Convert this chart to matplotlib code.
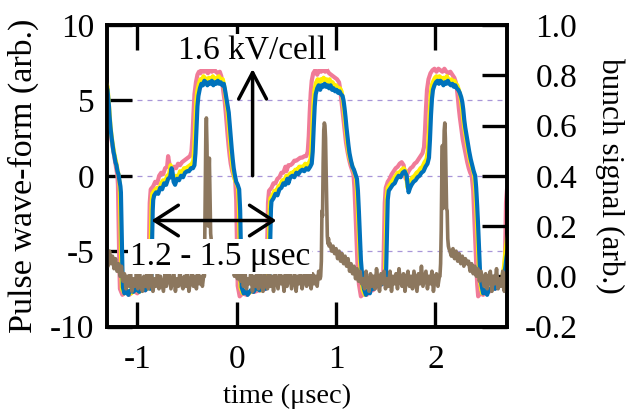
import numpy as np
import matplotlib
matplotlib.use("Agg")
import matplotlib.pyplot as plt

plt.rcParams['font.family'] = ['Liberation Serif', 'DejaVu Serif']
plt.rcParams['axes.unicode_minus'] = False

# ---------------- data ----------------
x_ticks = [-1, 0, 1, 2]
x_ticklabels = ["-1", "0", "1", "2"]
y_ticks = [-10, -5, 0, 5, 10]
y_ticklabels = ["-10", "-5", "0", "5", "10"]
y2_ticks = [-0.2, 0.0, 0.2, 0.4, 0.6, 0.8, 1.0]
y2_ticklabels = ["-0.2", "0.0", "0.2", "0.4", "0.6", "0.8", "1.0"]
grid_levels = [-5, 0, 5]

blue_t = [-1.31, -1.30, -1.29, -1.285, -1.28, -1.27, -1.26, -1.25, -1.24, -1.23, -1.22, -1.21, -1.20, -1.19,
          -1.18, -1.17, -1.165, -1.16, -1.155, -1.15, -1.145, -1.13, -1.11, -1.09, -1.07, -1.04, -1.01, -0.98,
          -0.95, -0.92, -0.89, -0.87, -0.86, -0.855, -0.85, -0.845, -0.84, -0.83, -0.81, -0.79, -0.77, -0.75,
          -0.73, -0.71, -0.69, -0.67, -0.655, -0.645, -0.635, -0.62, -0.60, -0.58, -0.56, -0.54, -0.52, -0.50,
          -0.48, -0.46, -0.44, -0.425, -0.415, -0.405, -0.395, -0.385, -0.37, -0.355, -0.34, -0.325, -0.31,
          -0.295, -0.28, -0.265, -0.25, -0.235, -0.22, -0.205, -0.19, -0.175, -0.16, -0.145, -0.13, -0.12,
          -0.11, -0.095, -0.08, -0.07, -0.06, -0.05, -0.04, -0.03, -0.02, -0.005, 0.01, 0.025, 0.035, 0.04,
          0.045, 0.05, 0.07, 0.09, 0.11, 0.14, 0.17, 0.20, 0.23, 0.26, 0.29, 0.32, 0.33, 0.335, 0.34, 0.345,
          0.35, 0.37, 0.39, 0.41, 0.43, 0.45, 0.47, 0.49, 0.51, 0.52, 0.54, 0.56, 0.58, 0.60, 0.62, 0.64, 0.66,
          0.68, 0.70, 0.72, 0.74, 0.755, 0.765, 0.775, 0.785, 0.795, 0.81, 0.825, 0.84, 0.855, 0.87, 0.885,
          0.90, 0.915, 0.93, 0.945, 0.96, 0.975, 0.99, 1.005, 1.02, 1.035, 1.05, 1.065, 1.075, 1.085, 1.095,
          1.105, 1.115, 1.125, 1.135, 1.15, 1.165, 1.18, 1.195, 1.21, 1.22, 1.23, 1.24, 1.25, 1.265, 1.28,
          1.30, 1.32, 1.34, 1.36, 1.38, 1.40, 1.42, 1.44, 1.46, 1.48, 1.50, 1.505, 1.51, 1.515, 1.52, 1.53,
          1.55, 1.57, 1.59, 1.61, 1.63, 1.65, 1.67, 1.69, 1.71, 1.72, 1.73, 1.745, 1.76, 1.78, 1.80, 1.82,
          1.84, 1.86, 1.88, 1.90, 1.92, 1.935, 1.945, 1.955, 1.965, 1.975, 1.99, 2.005, 2.02, 2.035, 2.05,
          2.065, 2.08, 2.095, 2.11, 2.125, 2.14, 2.155, 2.17, 2.185, 2.20, 2.215, 2.23, 2.245, 2.26, 2.27,
          2.28, 2.29, 2.30, 2.31, 2.32, 2.33, 2.34, 2.355, 2.37, 2.385, 2.40, 2.41, 2.42, 2.43, 2.44, 2.45,
          2.465, 2.48, 2.50, 2.52, 2.54, 2.56, 2.58, 2.60, 2.62, 2.64, 2.66, 2.68, 2.695, 2.705, 2.715, 2.725,
          2.735]
blue_v = [5.9, 5.7, 5.0, 4.6, 4.0, 3.2, 2.6, 2.1, 1.6, 1.3, 0.9, 0.7, 0.3, 0.1,
          -0.3, -0.7, -1.1, -2.8, -4.5, -6.2, -7.4, -7.8, -7.6, -7.9, -7.6, -7.7, -7.5, -7.7,
          -7.4, -7.6, -7.3, -7.5, -7.2, -5.5, -3.6, -2.3, -1.6, -1.3, -1.1, -1.2, -0.8, -0.9,
          -0.5, -0.6, -0.2, -0.1, 0.5, 0.2, -0.4, -0.6, -0.2, -0.3, 0.0, -0.1, 0.2, 0.3,
          0.3, 0.5, 0.5, 0.7, 1.5, 3.0, 4.6, 5.3, 5.8, 6.1, 6.0, 6.3, 6.2,
          6.0, 6.2, 6.1, 6.3, 6.0, 6.2, 6.1, 6.3, 6.1, 6.2, 6.0, 6.1, 5.8,
          5.4, 4.8, 4.2, 3.4, 2.6, 1.8, 1.1, 0.5, 0.1, -0.4, -0.6, -0.9, -2.3, -4.0,
          -6.0, -7.4, -7.8, -7.6, -7.9, -7.6, -7.7, -7.4, -7.6, -7.3, -7.5, -7.2, -6.5, -5.0, -3.6, -2.2,
          -1.7, -1.5, -1.2, -1.3, -0.9, -0.8, -0.5, -0.6, -0.2, -0.5, -0.1, 0.0, -0.1, 0.2, 0.1, 0.3, 0.4,
          0.3, 0.5, 0.4, 0.6, 0.8, 1.6, 3.2, 4.6, 5.4, 5.8, 6.0, 5.7, 6.0, 5.9, 6.1,
          5.9, 6.0, 5.8, 6.0, 5.7, 5.8, 5.6, 5.7, 5.5, 5.6, 5.4, 5.3, 5.0, 4.5, 3.9,
          3.2, 2.6, 2.0, 1.5, 1.0, 0.6, 0.4, 0.1, -0.2, -1.0, -2.4, -4.0, -5.6, -6.8, -7.5,
          -7.9, -7.6, -7.8, -7.3, -7.5, -7.1, -7.3, -7.0, -7.2, -6.9, -7.0, -6.0, -4.5, -3.0, -1.6, -1.0,
          -0.8, -0.6, -0.5, -0.2, 0.0, -0.1, 0.2, 0.3, 0.0, -0.6, -1.1, -0.8, -0.6, -0.4, -0.3, -0.1,
          0.0, 0.2, 0.3, 0.6, 0.8, 1.2, 2.4, 4.0, 5.1, 5.7, 6.0, 6.2, 6.3, 6.1, 6.3,
          6.2, 6.0, 6.2, 6.1, 6.3, 6.1, 6.0, 6.1, 5.9, 6.0, 5.8, 5.7, 5.5, 5.2, 4.9,
          4.4, 3.7, 3.2, 2.8, 2.4, 2.0, 1.6, 1.1, 0.7, 0.3, 0.0, -0.8, -2.0, -3.4, -5.0, -6.6,
          -7.3, -7.8, -7.6, -7.9, -7.5, -7.6, -7.3, -7.5, -7.2, -7.3, -7.0, -6.9, -6.5, -6.0, -5.4, -5.0,
          -4.7]

yellow_t = [-1.31, -1.30, -1.29, -1.28, -1.27, -1.26, -1.25, -1.24, -1.23, -1.22, -1.21, -1.20, -1.19, -1.18,
            -1.175, -1.17, -1.165, -1.16, -1.155, -1.13, -1.10, -1.06, -1.02, -0.98, -0.94, -0.90, -0.875,
            -0.868, -0.862, -0.857, -0.85, -0.83, -0.80, -0.78, -0.76, -0.74, -0.72, -0.70, -0.68, -0.665,
            -0.655, -0.645, -0.63, -0.61, -0.59, -0.57, -0.55, -0.53, -0.51, -0.49, -0.47, -0.45, -0.437,
            -0.427, -0.417, -0.407, -0.397, -0.38, -0.365, -0.35, -0.335, -0.32, -0.30, -0.28, -0.26, -0.24,
            -0.22, -0.20, -0.18, -0.16, -0.14, -0.13, -0.12, -0.107, -0.092, -0.082, -0.072, -0.062, -0.052,
            -0.042, -0.032, -0.017, -0.002, 0.013, 0.023, 0.028, 0.033, 0.038, 0.06, 0.09, 0.12, 0.16, 0.20,
            0.24, 0.28, 0.31, 0.318, 0.323, 0.328, 0.333, 0.34, 0.36, 0.38, 0.40, 0.42, 0.44, 0.46, 0.48,
            0.50, 0.51, 0.53, 0.55, 0.57, 0.59, 0.61, 0.63, 0.65, 0.67, 0.69, 0.71, 0.73, 0.743, 0.753, 0.763,
            0.773, 0.783, 0.80, 0.815, 0.83, 0.845, 0.86, 0.875, 0.89, 0.905, 0.92, 0.935, 0.95, 0.965, 0.98,
            1.00, 1.02, 1.04, 1.055, 1.065, 1.075, 1.085, 1.095, 1.105, 1.115, 1.125, 1.14, 1.155, 1.17, 1.185,
            1.20, 1.21, 1.22, 1.23, 1.24, 1.255, 1.27, 1.29, 1.32, 1.35, 1.38, 1.41, 1.44, 1.47, 1.49, 1.495,
            1.50, 1.505, 1.51, 1.52, 1.54, 1.56, 1.58, 1.60, 1.62, 1.64, 1.66, 1.68, 1.70, 1.71, 1.72, 1.735,
            1.75, 1.77, 1.79, 1.81, 1.83, 1.85, 1.87, 1.89, 1.91, 1.923, 1.933, 1.943, 1.953, 1.963, 1.98,
            1.995, 2.01, 2.025, 2.04, 2.055, 2.07, 2.085, 2.10, 2.115, 2.13, 2.145, 2.16, 2.175, 2.19, 2.205,
            2.22, 2.235, 2.25, 2.26, 2.27, 2.28, 2.29, 2.30, 2.31, 2.32, 2.33, 2.345, 2.36, 2.375, 2.39, 2.40,
            2.41, 2.42, 2.43, 2.44, 2.455, 2.47, 2.49, 2.52, 2.55, 2.58, 2.61, 2.64, 2.66, 2.675, 2.69, 2.70,
            2.71, 2.72, 2.735]
yellow_v = [6.1, 5.9, 5.1, 4.2, 3.3, 2.7, 2.2, 1.8, 1.4, 1.1, 0.8, 0.4, 0.1, -0.4,
            -1.0, -2.8, -4.6, -6.3, -7.5, -7.8, -7.6, -7.8, -7.5, -7.7, -7.4, -7.5, -7.3,
            -5.4, -3.5, -2.0, -1.2, -1.0, -0.8, -0.9, -0.5, -0.3, -0.4, 0.0, 0.1, 0.7,
            0.4, -0.1, -0.3, 0.0, -0.1, 0.3, 0.2, 0.5, 0.5, 0.6, 0.7, 0.8, 1.0,
            1.9, 3.4, 4.9, 5.6, 6.1, 6.4, 6.3, 6.6, 6.5, 6.3, 6.5, 6.4, 6.6,
            6.4, 6.5, 6.6, 6.4, 6.4, 6.1, 5.7, 5.0, 4.3, 3.5, 2.7, 1.9, 1.2,
            0.6, 0.2, -0.3, -0.5, -0.8, -2.2, -4.0, -6.0, -7.4, -7.8, -7.6, -7.8, -7.6, -7.5,
            -7.6, -7.4, -7.3, -6.5, -5.0, -3.4, -2.0, -1.5, -1.3, -1.0, -1.0, -0.7, -0.6, -0.3, -0.3,
            0.0, -0.3, 0.1, 0.2, 0.2, 0.4, 0.4, 0.6, 0.6, 0.6, 0.8, 0.7, 0.9, 1.1, 1.9, 3.5,
            4.9, 5.7, 6.2, 6.4, 6.1, 6.4, 6.3, 6.5, 6.3, 6.4, 6.2, 6.4, 6.1, 6.2, 6.0,
            6.0, 5.8, 5.8, 5.6, 5.2, 4.6, 4.0, 3.3, 2.7, 2.1, 1.6, 1.1, 0.8, 0.5, 0.2,
            -0.1, -1.0, -2.4, -4.0, -5.6, -6.8, -7.6, -7.9, -7.6, -7.5, -7.4, -7.2, -7.1, -7.0, -6.9, -5.8,
            -4.3, -2.8, -1.4, -0.8, -0.6, -0.4, -0.2, 0.0, 0.2, 0.2, 0.4, 0.5, 0.3, -0.3, -0.8, -0.5,
            -0.3, -0.1, 0.0, 0.2, 0.3, 0.5, 0.6, 0.9, 1.1, 1.6, 2.8, 4.3, 5.4, 6.0, 6.3,
            6.5, 6.6, 6.4, 6.6, 6.5, 6.3, 6.5, 6.4, 6.6, 6.4, 6.3, 6.4, 6.2, 6.3, 6.1,
            6.0, 5.7, 5.3, 4.9, 4.3, 3.7, 3.2, 2.8, 2.4, 2.0, 1.6, 1.1, 0.7, 0.4, 0.0, -0.8,
            -2.0, -3.4, -5.0, -6.6, -7.3, -7.8, -7.6, -7.8, -7.5, -7.4, -7.4, -7.2, -7.0, -6.6, -6.0, -5.3,
            -4.7, -4.2, -3.7]

pink_t = [-1.31, -1.305, -1.30, -1.29, -1.28, -1.27, -1.26, -1.25, -1.24, -1.23, -1.22, -1.21, -1.20,
          -1.195, -1.19, -1.185, -1.18, -1.175, -1.15, -1.12, -1.08, -1.04, -1.00, -0.96, -0.92, -0.89,
          -0.885, -0.88, -0.875, -0.865, -0.84, -0.82, -0.80, -0.78, -0.76, -0.74, -0.72, -0.70, -0.69,
          -0.68, -0.665, -0.65, -0.63, -0.61, -0.59, -0.57, -0.55, -0.53, -0.51, -0.49, -0.47, -0.455,
          -0.445, -0.435, -0.425, -0.41, -0.395, -0.38, -0.365, -0.35, -0.33, -0.31, -0.29, -0.27, -0.25,
          -0.23, -0.21, -0.19, -0.17, -0.155, -0.145, -0.135, -0.12, -0.11, -0.10, -0.09, -0.08, -0.07,
          -0.06, -0.045, -0.03, -0.015, -0.005, 0.0, 0.005, 0.01, 0.03, 0.06, 0.10, 0.14, 0.18, 0.22, 0.26,
          0.29, 0.30, 0.305, 0.31, 0.315, 0.325, 0.35, 0.37, 0.39, 0.41, 0.43, 0.45, 0.47, 0.49, 0.50, 0.52,
          0.54, 0.56, 0.58, 0.60, 0.62, 0.64, 0.66, 0.68, 0.70, 0.715, 0.725, 0.735, 0.745, 0.755, 0.77,
          0.79, 0.81, 0.83, 0.85, 0.87, 0.89, 0.91, 0.93, 0.95, 0.97, 0.99, 1.01, 1.03, 1.04, 1.05, 1.06,
          1.07, 1.08, 1.09, 1.10, 1.115, 1.13, 1.145, 1.16, 1.175, 1.185, 1.195, 1.205, 1.215, 1.23, 1.25,
          1.28, 1.31, 1.34, 1.37, 1.40, 1.43, 1.46, 1.475, 1.48, 1.485, 1.49, 1.50, 1.52, 1.54, 1.56, 1.58,
          1.60, 1.62, 1.64, 1.66, 1.68, 1.69, 1.70, 1.715, 1.73, 1.75, 1.77, 1.79, 1.81, 1.83, 1.85, 1.87,
          1.885, 1.895, 1.905, 1.915, 1.93, 1.95, 1.97, 1.99, 2.01, 2.03, 2.05, 2.07, 2.09, 2.11, 2.13,
          2.15, 2.17, 2.19, 2.205, 2.215, 2.225, 2.235, 2.245, 2.255, 2.265, 2.275, 2.29, 2.305, 2.32,
          2.335, 2.35, 2.365, 2.38, 2.39, 2.40, 2.41, 2.42, 2.43, 2.45, 2.48, 2.51, 2.54, 2.57, 2.60, 2.63,
          2.66, 2.69, 2.70, 2.705, 2.71, 2.72, 2.735]
pink_v = [6.4, 6.0, 5.3, 4.4, 3.5, 2.9, 2.4, 2.0, 1.6, 1.2, 0.8, 0.4, 0.0,
          -0.6, -2.6, -4.5, -6.2, -7.5, -7.9, -7.7, -7.9, -7.6, -7.8, -7.5, -7.6, -7.4,
          -5.5, -3.3, -1.8, -0.9, -0.7, -0.4, -0.5, 0.0, 0.2, 0.1, 0.5, 0.6, 1.3,
          0.9, 0.4, 0.3, 0.6, 0.5, 0.8, 0.7, 0.9, 1.0, 1.1, 1.2, 1.3, 1.6,
          2.6, 4.1, 5.4, 6.2, 6.7, 6.9, 6.8, 7.1, 6.9, 7.0, 6.8, 7.0, 6.9,
          7.1, 6.9, 6.8, 6.9, 6.6, 6.2, 5.6, 4.9, 4.2, 3.4, 2.6, 1.9, 1.3,
          0.8, 0.3, 0.0, -0.3, -1.6, -3.6, -5.6, -7.3, -8.0, -7.8, -7.9, -7.7, -7.7, -7.6, -7.6,
          -7.5, -7.0, -5.2, -3.2, -1.8, -1.0, -0.8, -0.5, -0.5, -0.2, -0.1, 0.2, 0.2, 0.6, 0.3, 0.7,
          0.7, 0.8, 1.0, 1.0, 1.1, 1.2, 1.2, 1.3, 1.3, 1.6, 2.6, 4.2, 5.5, 6.3, 6.8,
          7.0, 6.7, 7.0, 6.9, 7.1, 6.9, 7.0, 6.8, 6.7, 6.6, 6.5, 6.4, 6.2, 5.8, 5.2, 4.6,
          4.0, 3.4, 2.8, 2.2, 1.6, 1.1, 0.7, 0.4, 0.1, -0.8, -2.4, -4.2, -5.8, -7.2, -8.0,
          -7.8, -7.9, -7.6, -7.6, -7.4, -7.3, -7.2, -6.5, -5.0, -3.4, -1.8, -0.8, -0.4, -0.2, 0.1, 0.3,
          0.5, 0.6, 0.8, 0.9, 0.7, 0.2, -0.2, 0.1, 0.3, 0.5, 0.6, 0.8, 0.9, 1.1, 1.3, 1.5,
          1.9, 3.0, 4.5, 5.7, 6.4, 6.8, 7.0, 7.1, 6.9, 7.1, 7.0, 6.9, 7.1, 6.9, 6.8,
          6.9, 6.7, 6.5, 6.2, 5.8, 5.2, 4.5, 3.9, 3.4, 2.9, 2.4, 1.9, 1.4, 0.9,
          0.5, 0.2, 0.0, -1.0, -2.6, -4.2, -5.8, -7.2, -8.0, -7.8, -7.9, -7.6, -7.7, -7.4, -7.5, -7.3,
          -7.2, -7.0, -5.5, -3.5, -1.8, -0.9, -0.5]

# bunch signal (right axis), uniformly sampled stretches plus the three spikes
bunch_base1_span = (-1.31, -0.33)
bunch_base1_v = [0.09, 0.04, 0.10, 0.05, 0.08, 0.03, 0.07, 0.02, 0.05, 0.00, 0.04, -0.02,
                 0.01, -0.05, 0.00, -0.04, 0.02, -0.06, -0.01, -0.04, 0.01, -0.05, 0.02, -0.03, -0.06,
                 0.00, -0.04, 0.01, -0.05, -0.02, 0.02, -0.06, -0.01, -0.04, 0.01, -0.05, 0.00, -0.03,
                 -0.06, 0.01, -0.04, -0.01, 0.02, -0.05, -0.02, 0.01, -0.06, -0.01, -0.04, 0.02, -0.03,
                 -0.05, 0.00, -0.04, 0.01, -0.06, -0.02, 0.01, -0.04, 0.00, -0.05, 0.02, -0.03, 0.00,
                 -0.04, 0.01]
bunch_peak1_t = [-0.325, -0.318, -0.311, -0.305, -0.299, -0.293, -0.287, -0.281, -0.275, -0.269, -0.262, -0.255]
bunch_peak1_v = [0.00, 0.28, 0.55, 0.63, 0.52, 0.30, 0.20, 0.38, 0.47, 0.33, 0.17, 0.14]
bunch_base2_span = (-0.25, 0.84)
bunch_base2_v = [0.12, 0.09, 0.13, 0.08, 0.11, 0.07, 0.10, 0.06, 0.09, 0.04, 0.08, 0.03, 0.06, 0.02,
                 0.05, 0.00, 0.04, -0.01, 0.03, -0.02,
                 0.01, -0.04, 0.02, -0.05, -0.01, -0.03, 0.02, -0.06, 0.00, -0.04, 0.01, -0.05, 0.02,
                 -0.02, -0.06, 0.01, -0.03, -0.05, 0.02, -0.04, 0.00, -0.06, 0.01, -0.02, -0.05, 0.02,
                 -0.03, 0.00, -0.06, 0.01, -0.04, -0.01, 0.02, -0.05, -0.02, 0.01, -0.06, 0.00, -0.03,
                 0.02, -0.05, -0.01, 0.01, -0.04, 0.05, -0.02, -0.05, 0.01, -0.03, 0.00, -0.04, 0.02, -0.01]
bunch_peak2_t = [0.845, 0.852, 0.858, 0.864, 0.870, 0.876, 0.882, 0.888, 0.894, 0.900, 0.906, 0.912, 0.918, 0.924, 0.930]
bunch_peak2_v = [0.00, 0.06, 0.26, 0.24, 0.45, 0.58, 0.61, 0.60, 0.55, 0.42, 0.27, 0.16, 0.13, 0.15, 0.12]
bunch_base3_span = (0.94, 2.04)
bunch_base3_v = [0.13, 0.10, 0.12, 0.09, 0.11, 0.07, 0.10, 0.06, 0.09, 0.05, 0.08, 0.04, 0.07, 0.02,
                 0.05, 0.01, 0.04, -0.01, 0.03, -0.02, 0.02, -0.03,
                 -0.01, -0.05, 0.02, -0.03, -0.06, 0.01, -0.04, 0.00, -0.05, 0.03, -0.02, -0.06, 0.01,
                 -0.03, 0.02, -0.05, -0.01, -0.04, 0.02, -0.06, 0.00, -0.03, 0.01, -0.05, 0.03, -0.02,
                 -0.04, 0.01, -0.06, -0.01, 0.02, -0.04, 0.00, -0.05, 0.02, -0.02, -0.06, 0.01, -0.03,
                 0.04, -0.04, -0.01, 0.02, -0.05, 0.00, -0.03, 0.02, -0.06, -0.01, 0.01, -0.04, 0.00]
bunch_peak3_t = [2.045, 2.052, 2.058, 2.064, 2.070, 2.076, 2.082, 2.088, 2.094, 2.100, 2.106, 2.112, 2.118, 2.124, 2.130, 2.136]
bunch_peak3_v = [0.00, 0.05, 0.18, 0.40, 0.52, 0.27, 0.45, 0.58, 0.61, 0.55, 0.40, 0.27, 0.26, 0.15, 0.12, 0.11]
bunch_base4_span = (2.145, 2.74)
bunch_base4_v = [0.10, 0.08, 0.11, 0.07, 0.10, 0.06, 0.09, 0.05, 0.08, 0.04, 0.07, 0.05, 0.06, 0.02,
                 0.05, 0.01, 0.04, 0.00, 0.03, -0.02, 0.02, -0.01,
                 -0.04, 0.01, -0.05, -0.01, 0.02, -0.06, 0.00, -0.03, 0.03, -0.05, -0.01, -0.04, 0.02,
                 -0.06, 0.01, -0.02, 0.00]

# ---------------- styling ----------------
c_pink = '#F07B98'
c_yellow = '#FFEE00'
c_blue = '#0072BB'
c_brown = '#8C775E'
c_grid = '#A896D8'

W, H = 626, 418
fig = plt.figure(figsize=(W / 100, H / 100), dpi=100)
ax = fig.add_axes([107 / W, (H - 326.5) / H, 399.5 / W, 301.5 / H])

for lv in grid_levels:
    ax.axhline(lv, color=c_grid, lw=0.9, ls=(0, (4, 4)), zorder=0.5)

lw = 3.0
ax.plot(pink_t, pink_v, color=c_pink, lw=lw, zorder=2)
ax.plot(yellow_t, yellow_v, color=c_yellow, lw=lw, zorder=3)
ax.plot(blue_t, blue_v, color=c_blue, lw=lw, zorder=4)

ax.set_xlim(-1.305, 2.715)
ax.set_ylim(-10, 10)
ax.set_xticks(x_ticks, x_ticklabels)
ax.set_yticks(y_ticks, y_ticklabels)
ax.tick_params(axis='both', direction='in', length=18, width=2.4, labelsize=24, colors='black')
ax.tick_params(axis='x', top=True, pad=13)
ax.tick_params(axis='y', right=False, pad=9)
for s in ax.spines.values():
    s.set_linewidth(2.6)

ax2 = ax.twinx()
bunch_t = np.concatenate([
    np.linspace(*bunch_base1_span, len(bunch_base1_v)), bunch_peak1_t,
    np.linspace(*bunch_base2_span, len(bunch_base2_v)), bunch_peak2_t,
    np.linspace(*bunch_base3_span, len(bunch_base3_v)), bunch_peak3_t,
    np.linspace(*bunch_base4_span, len(bunch_base4_v))])
bunch_v = np.concatenate([bunch_base1_v, bunch_peak1_v, bunch_base2_v, bunch_peak2_v,
                          bunch_base3_v, bunch_peak3_v, bunch_base4_v])
ax2.plot(bunch_t, bunch_v, color=c_brown, lw=2.6, zorder=2)
ax2.set_ylim(-0.2, 1.0)
ax2.set_xlim(ax.get_xlim())
ax2.set_yticks(y2_ticks, y2_ticklabels, ha='right')
ax2.tick_params(axis='y', direction='in', length=18, width=2.4, labelsize=24, pad=51)
for s in ax2.spines.values():
    s.set_linewidth(2.6)

# annotations (on top of everything)
tr = ax.transData
ax2.text(0.156, 7.68, "1.6 kV/cell", transform=tr, fontsize=24, ha='center', va='baseline',
         bbox=dict(facecolor='white', edgecolor='none', pad=1.5), zorder=10)
ax2.text(-0.171, -5.92, "1.2 - 1.5 \u03bcsec", transform=tr, fontsize=24, ha='center', va='baseline',
         bbox=dict(facecolor='white', edgecolor='none', pad=1.5), zorder=10)
ax2.annotate('', xy=(0.16, 7.09), xytext=(0.16, 0.0), xycoords=tr, textcoords=tr,
             arrowprops=dict(arrowstyle='->,head_length=0.95,head_width=0.5', lw=2.5, color='black',
                             shrinkA=0, shrinkB=0, mutation_scale=20), zorder=11)
ax2.annotate('', xy=(-0.857, -2.97), xytext=(0.399, -2.97), xycoords=tr, textcoords=tr,
             arrowprops=dict(arrowstyle='<->,head_length=0.85,head_width=0.55', lw=2.5, color='black',
                             shrinkA=0, shrinkB=0, mutation_scale=20), zorder=11)

fig.text(23.5 / W, 1 - 176 / H, "Pulse wave-form (arb.)", rotation=90, ha='center', va='center', fontsize=24.5)
fig.text(610 / W, 1 - 176 / H, "bunch signal (arb.)", rotation=-90, ha='center', va='center', fontsize=22.5)
fig.text(287 / W, 1 - 396 / H, "time (\u03bcsec)", ha='center', va='center', fontsize=20.5)

fig.savefig("out.png", dpi=100)
